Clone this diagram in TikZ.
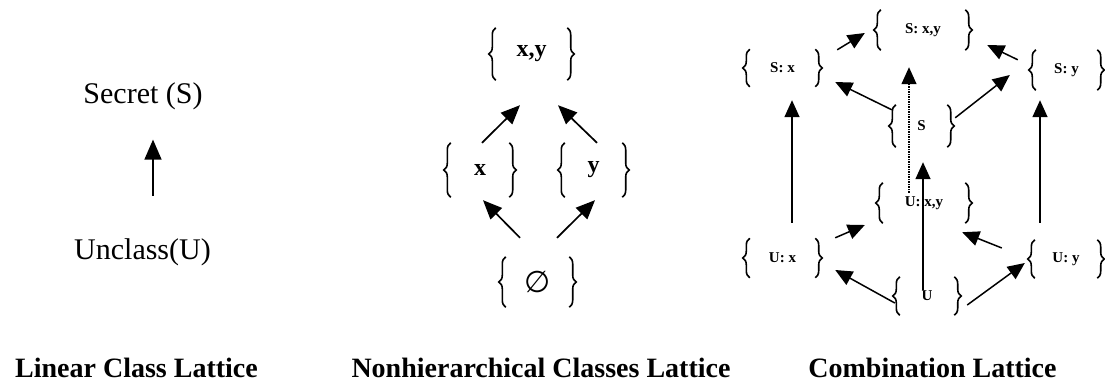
\documentclass[tikz,border=0pt]{standalone}
\usepackage{fontspec}
\setmainfont{Liberation Serif}
\newfontfamily\djv{DejaVu Sans}
\usetikzlibrary{arrows.meta,decorations.pathreplacing}
\begin{document}
\begin{tikzpicture}[x=1pt,y=-1pt,
  lab/.style={inner sep=0pt, anchor=base, font=\fontsize{30}{36}\selectfont},
  ttl/.style={inner sep=0pt, anchor=base, font=\fontsize{28}{34}\selectfont\bfseries},
  mset/.style={inner sep=0pt, minimum height=52pt, font=\fontsize{24}{28}\selectfont\bfseries},
  cset/.style={inner sep=0pt, minimum height=40pt, font=\fontsize{15}{18}\selectfont\bfseries},
  br/.style={decorate, decoration={brace, amplitude=7pt}, line width=1.6pt},
  larr/.style={-{Triangle[length=20pt,width=17pt]}, line width=1.3pt},
  arr/.style={-{Triangle[length=19pt,width=16pt]}, line width=1.7pt},
  sarr/.style={-{Triangle[length=17pt,width=15pt]}, line width=1.5pt},
  darr/.style={sarr, densely dotted, line width=1.3pt},
]
\useasboundingbox (0,0) rectangle (1105,381);

% ---------- Linear class lattice ----------
\node[lab] (sec) at (143,103) {Secret (S)};
\node[lab] (unc) at (142.5,259) {Unclass(U)};
\draw[larr] ([shift={(10.5,-42)}]unc.north) -- ([shift={(10,30)}]sec.south);
\node[ttl] (t1) at (136.5,377) {Linear Class Lattice};

% ---------- Nonhierarchical classes lattice ----------
\node[mset, minimum width=71pt] (xy) at (531.5,54) {x,y};
\node[mset, minimum width=58pt, minimum height=54pt] (x) at (480,170) {x};
\node[mset, minimum width=57pt, minimum height=54pt] (y) at (593.5,170) {y};
\node[mset, minimum width=63pt, minimum height=50pt, font=\fontsize{30}{34}\selectfont\djv] (e) at (537.5,282) {∅};
\draw[arr] ([shift={(2,0)}]x.north) -- ([shift={(-11.5,25)}]xy.south);
\draw[arr] ([shift={(3.5,0)}]y.north) -- ([shift={(26.5,25)}]xy.south);
\draw[arr] ([shift={(-17.5,-19)}]e.north) -- ([shift={(3,3)}]x.south);
\draw[arr] ([shift={(19.5,-19)}]e.north) -- ([shift={(1.5,3)}]y.south);
\node[ttl] (t2) at (541,377) {Nonhierarchical Classes Lattice};

% ---------- Combination lattice ----------
\node[cset, minimum width=84pt] (Sxy) at (923,30) {S: x,y};
\node[cset, minimum width=65pt, minimum height=37pt] (Sx) at (782.5,68) {S: x};
\node[cset, minimum width=61pt] (Sy) at (1066.5,70) {S: y};
\node[cset, minimum width=51pt, minimum height=42pt] (S) at (921.5,126) {S};
\node[cset, minimum width=82pt] (Uxy) at (924,203) {U: x,y};
\node[cset, minimum width=65pt, minimum height=39pt] (Ux) at (782.5,258) {U: x};
\node[cset, minimum width=62pt, minimum height=38pt] (Uy) at (1066,259) {U: y};
\node[cset, minimum width=54pt, minimum height=38pt] (U) at (927,296) {U};

\draw[sarr] ([shift={(22,0.5)}]Sx.north east) -- ([shift={(-16,3)}]Sxy.west);
\draw[sarr] ([shift={(-18,10)}]Sy.north west) -- ([shift={(22,15)}]Sxy.east);
\draw[sarr] ([shift={(-4,5)}]S.north west) -- ([shift={(20,14)}]Sx.east);
\draw[sarr] ([shift={(8,13)}]S.north east) -- ([shift={(-26,5)}]Sy.west);
\draw[darr] ([shift={(-15,10)}]Uxy.north) -- ([shift={(-14,17)}]Sxy.south);
\draw[sarr] ([shift={(-4,13)}]U.north) -- ([shift={(1.5,15)}]S.south);
\draw[sarr] ([shift={(9.5,-15.5)}]Ux.north) -- ([shift={(9.5,13.5)}]Sx.south);
\draw[sarr] ([shift={(-26,-17)}]Uy.north) -- ([shift={(-26.5,10)}]Sy.south);
\draw[sarr] ([shift={(20,-0.5)}]Ux.north east) -- ([shift={(-18,22)}]Uxy.west);
\draw[sarr] ([shift={(-33,-11)}]Uy.west) -- ([shift={(-3,9)}]Uxy.south east);
\draw[sarr] ([shift={(-5,7)}]U.west) -- ([shift={(20,12)}]Ux.east);
\draw[sarr] ([shift={(13,9)}]U.east) -- ([shift={(-10,4)}]Uy.west);
\node[ttl] (t3) at (932.5,377) {Combination Lattice};

% ---------- braces ----------
\foreach \n in {xy,x,y,e,Sxy,Sx,Sy,S,Uxy,Ux,Uy,U}{
  \draw[br] (\n.south west) -- (\n.north west);
  \draw[br] (\n.north east) -- (\n.south east);
}
\end{tikzpicture}
\end{document}
